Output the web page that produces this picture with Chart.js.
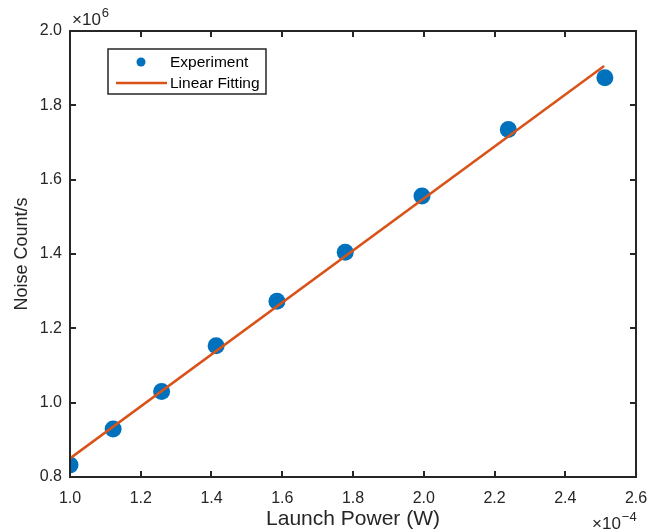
<!DOCTYPE html>
<html>
<head>
<meta charset="utf-8">
<script src="https://cdn.jsdelivr.net/npm/chart.js@4.4.0/dist/chart.umd.min.js"></script>
<style>
  html, body { margin: 0; padding: 0; background: #fff; }
  #wrap { width: 665px; height: 531px; }
</style>
</head>
<body>
<div id="wrap"><canvas id="myChart" width="665" height="531"></canvas></div>
<script>
// launch power in units of 1e-4 W, noise in units of 1e6 counts/s
const power = [1.0, 1.122, 1.259, 1.413, 1.585, 1.778, 1.995, 2.239, 2.512];
const noise = [0.832, 0.929, 1.030, 1.153, 1.273, 1.405, 1.556, 1.735, 1.874];
// end points of the linear fit
const fitX = [1.0, 2.51];
const fitY = [0.850, 1.906];
const xTicks = [1.0, 1.2, 1.4, 1.6, 1.8, 2.0, 2.2, 2.4, 2.6];
const yTicks = [0.8, 1.0, 1.2, 1.4, 1.6, 1.8, 2.0];

const axisColor = '#262626';
const font = '"Liberation Sans", Arial, Helvetica, sans-serif';

// draws "x10^n" with the exponent right after the base
function expLabel(ctx, x, y, exp) {
  ctx.font = '17px ' + font;
  ctx.fillText('\u00d710', x, y);
  const w = ctx.measureText('\u00d710').width;
  ctx.font = '13px ' + font;
  ctx.fillText(exp, x + w + 1, y - 7);
}

// box + inward ticks, exponent labels, legend
const matlabStuff = {
  id: 'matlabStuff',
  afterDraw(chart) {
    const ctx = chart.ctx;
    const a = chart.chartArea;
    const xs = chart.scales.x, ys = chart.scales.y;
    ctx.save();
    ctx.strokeStyle = axisColor;
    ctx.lineWidth = 2;
    ctx.strokeRect(a.left, a.top, a.right - a.left, a.bottom - a.top);
    const tl = 6;
    ctx.beginPath();
    xTicks.forEach(v => {
      const px = Math.round(xs.getPixelForValue(v));
      ctx.moveTo(px, a.bottom); ctx.lineTo(px, a.bottom - tl);
      ctx.moveTo(px, a.top); ctx.lineTo(px, a.top + tl);
    });
    yTicks.forEach(v => {
      const py = Math.round(ys.getPixelForValue(v));
      ctx.moveTo(a.left, py); ctx.lineTo(a.left + tl, py);
      ctx.moveTo(a.right, py); ctx.lineTo(a.right - tl, py);
    });
    ctx.stroke();

    // exponents
    ctx.fillStyle = axisColor;
    ctx.textBaseline = 'middle';
    ctx.textAlign = 'left';
    expLabel(ctx, a.left + 2, a.top - 11, '6');
    expLabel(ctx, a.right - 44, a.bottom + 47, '\u22124');

    // legend
    const lx = 108, ly = 49, lw = 158, lh = 45;
    ctx.fillStyle = '#fff';
    ctx.fillRect(lx, ly, lw, lh);
    ctx.strokeStyle = axisColor;
    ctx.lineWidth = 1.5;
    ctx.strokeRect(lx, ly, lw, lh);
    ctx.fillStyle = '#0072BD';
    ctx.beginPath();
    ctx.arc(141, 62, 4.5, 0, Math.PI * 2);
    ctx.fill();
    ctx.strokeStyle = '#D95319';
    ctx.lineWidth = 2.5;
    ctx.beginPath();
    ctx.moveTo(116, 83); ctx.lineTo(167, 83);
    ctx.stroke();
    ctx.fillStyle = '#000';
    ctx.font = '15.5px ' + font;
    ctx.fillText('Experiment', 170, 63);
    ctx.fillText('Linear Fitting', 170, 84);
    ctx.restore();
  }
};

const ctx = document.getElementById('myChart').getContext('2d');
new Chart(ctx, {
  type: 'scatter',
  data: {
    datasets: [
      {
        label: 'Linear Fitting',
        data: fitX.map((x, i) => ({ x: x, y: fitY[i] })),
        showLine: true,
        borderColor: '#D95319',
        borderWidth: 2.5,
        pointRadius: 0,
        order: 0
      },
      {
        label: 'Experiment',
        data: power.map((x, i) => ({ x: x, y: noise[i] })),
        backgroundColor: '#0072BD',
        borderColor: '#0072BD',
        pointRadius: 8.5,
        borderWidth: 0,
        order: 1
      }
    ]
  },
  options: {
    responsive: false,
    animation: false,
    layout: { padding: { top: 31, right: 29, left: 0, bottom: 0 } },
    plugins: { legend: { display: false }, tooltip: { enabled: false } },
    scales: {
      x: {
        type: 'linear',
        min: 1.0, max: 2.6,
        afterBuildTicks: s => { s.ticks = xTicks.map(v => ({ value: v })); },
        afterFit: s => { s.height = 54; },
        grid: { display: false, drawTicks: false },
        border: { display: false },
        ticks: {
          color: axisColor, padding: 12,
          font: { family: font, size: 16 },
          callback: v => v.toFixed(1)
        },
        title: {
          display: true, text: 'Launch Power (W)', color: axisColor,
          font: { family: font, size: 21 }, padding: { top: 0, bottom: -1 }
        }
      },
      y: {
        type: 'linear',
        min: 0.8, max: 2.0,
        afterBuildTicks: s => { s.ticks = yTicks.map(v => ({ value: v })); },
        afterFit: s => { s.width = 70; },
        grid: { display: false, drawTicks: false },
        border: { display: false },
        ticks: {
          color: axisColor, padding: 8,
          font: { family: font, size: 16 },
          callback: v => v.toFixed(1)
        },
        title: {
          display: true, text: 'Noise Count/s', color: axisColor,
          font: { family: font, size: 18 }, padding: { top: 11, bottom: 0 }
        }
      }
    }
  },
  plugins: [matlabStuff]
});
</script>
</body>
</html>
